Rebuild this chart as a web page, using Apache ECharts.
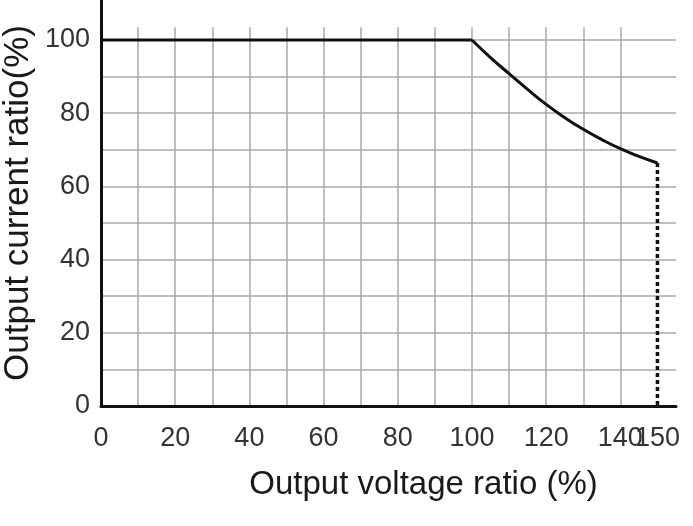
<!DOCTYPE html>
<html><head><meta charset="utf-8">
<script src="https://cdn.jsdelivr.net/npm/echarts@6/dist/echarts.min.js"></script>
<style>html,body{margin:0;padding:0;background:#fff}#c{width:693px;height:526px}</style>
</head><body><div id="c"></div>
<script>
// Data
const flatVoltage = [0, 100];
const flatCurrent = [100, 100];
const curveVoltage = [100, 105, 110, 115, 120, 125, 130, 135, 140, 145, 150];
const curveCurrent = [100, 95.2, 90.8, 86.5, 82.4, 78.8, 75.6, 72.8, 70.3, 68.2, 66.4];
const cutoffVoltage = [150, 150];
const cutoffCurrent = [66.4, 0];
const xLabels = [0, 20, 40, 60, 80, 100, 120, 140, 150];
const yLabels = [0, 20, 40, 60, 80, 100];
const xTitle = 'Output voltage ratio (%)';
const yTitle = 'Output current ratio(%)';

const FONT = 'Liberation Sans, Arial, sans-serif';
const GRAY = '#a8a8a8';
const NONE = 'rgba(0,0,0,0)';
const vColors = [];
for (let v = 0; v <= 150; v += 10) vColors.push(v === 0 || v === 150 ? NONE : GRAY);
vColors.push(NONE, NONE);
const hColors = [];
for (let v = 0; v <= 100; v += 10) hColors.push(GRAY);
hColors.push(NONE, NONE);

const pairs = (xs, ys) => xs.map((v, i) => [v, ys[i]]);

const chart = echarts.init(document.getElementById('c'), null, {renderer: 'canvas'});
chart.setOption({
  animation: false,
  backgroundColor: '#fff',
  grid: [
    {left: 101, right: 17, top: 27.2, bottom: 120, containLabel: false, outerBoundsMode: 'none'},
    {left: 101, right: 17, top: 0, bottom: 120, containLabel: false, outerBoundsMode: 'none'}
  ],
  xAxis: [{
    type: 'value', min: 0, max: 155, interval: 10, gridIndex: 0,
    name: xTitle, nameLocation: 'middle', nameGap: 62,
    nameTextStyle: {fontFamily: FONT, fontSize: 33, color: '#1a1a1a', padding: [0, 0, 0, 70]},
    axisLine: {show: true, onZero: false, lineStyle: {color: '#111', width: 3}},
    axisTick: {show: false},
    axisLabel: {
      margin: 19, fontFamily: FONT, fontSize: 27, color: '#333',
      showMinLabel: true, showMaxLabel: true, hideOverlap: false,
      formatter: v => xLabels.indexOf(v) >= 0 ? String(v) : ''
    },
    splitLine: {show: true, lineStyle: {color: vColors, width: 1.5}}
  }, {
    type: 'value', gridIndex: 1, min: 0, max: 1, show: false
  }],
  yAxis: [{
    type: 'value', min: 0, max: 103.5, interval: 10, gridIndex: 0,
    axisLine: {show: true, onZero: false, lineStyle: {color: '#111', width: 3}},
    axisTick: {show: false},
    axisLabel: {
      margin: 11, fontFamily: FONT, fontSize: 27, color: '#333',
      formatter: v => yLabels.indexOf(v) >= 0 ? String(v) : ''
    },
    splitLine: {show: true, lineStyle: {color: hColors, width: 1.5}}
  }, {
    type: 'value', gridIndex: 1, min: 0, max: 1,
    name: yTitle, nameLocation: 'middle', nameGap: 65, nameRotate: 90,
    nameTextStyle: {fontFamily: FONT, fontSize: 35, color: '#1a1a1a'},
    axisLine: {show: true, onZero: false, lineStyle: {color: '#111', width: 3}},
    axisTick: {show: false}, axisLabel: {show: false}, splitLine: {show: false}
  }],
  series: [{
    type: 'line', xAxisIndex: 0, yAxisIndex: 0,
    data: pairs(flatVoltage, flatCurrent),
    showSymbol: false, symbol: 'none',
    lineStyle: {color: '#111', width: 3}, z: 5
  }, {
    type: 'line', xAxisIndex: 0, yAxisIndex: 0,
    data: pairs(curveVoltage, curveCurrent),
    smooth: true, showSymbol: false, symbol: 'none',
    lineStyle: {color: '#111', width: 3}, z: 5
  }, {
    type: 'line', xAxisIndex: 0, yAxisIndex: 0,
    data: pairs(cutoffVoltage, cutoffCurrent),
    showSymbol: false, symbol: 'none',
    lineStyle: {color: '#111', width: 3.5, type: [4, 3]}, z: 5
  }]
});
</script></body></html>
